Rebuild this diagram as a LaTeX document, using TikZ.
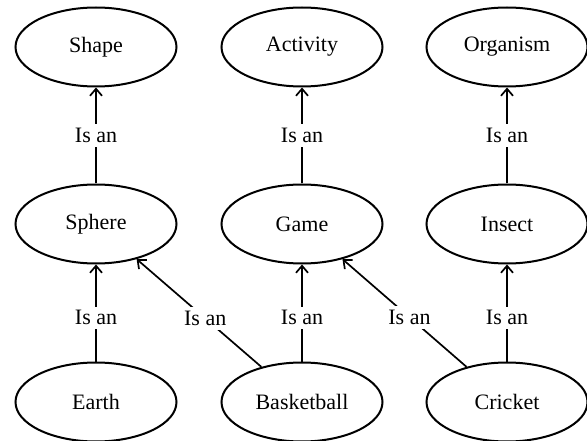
\documentclass[tikz,border=0pt]{standalone}
\usepackage{fontspec}
\setmainfont{Liberation Serif}
\usetikzlibrary{shapes.geometric,arrows.meta}
\tikzset{
  concept/.style={ellipse, draw, line width=2pt, minimum width=161pt, minimum height=79pt, inner sep=0pt, font=\fontsize{22}{26}\selectfont},
  isa/.style={line width=1.7pt, -{Straight Barb[length=7pt,width=12pt,line width=1.7pt]}},
  rel/.style={fill=white, inner sep=4pt, font=\fontsize{22}{26}\selectfont}
}
\begin{document}
\begin{tikzpicture}[x=1pt, y=-1pt]
  \useasboundingbox (0,0) rectangle (587,441);
  % top row
  \node[concept] (shape)    at (96,47)  {Shape};
  \node[concept] (activity) at (302,47) {Activity};
  \node[concept] (organism) at (507,47) {Organism};
  % middle row
  \node[concept] (sphere) at (96,224)  {Sphere};
  \node[concept] (game)   at (302,224) {Game};
  \node[concept] (insect) at (507,224) {Insect};
  % bottom row
  \node[concept] (earth)      at (96,402)  {Earth};
  \node[concept] (basketball) at (302,402) {Basketball};
  \node[concept] (cricket)    at (507,402) {Cricket};
  % is-a relations
  \draw[isa] (sphere) -- node[rel] {Is an} (shape);
  \draw[isa] (game) -- node[rel] {Is an} (activity);
  \draw[isa] (insect) -- node[rel] {Is an} (organism);
  \draw[isa] (earth) -- node[rel, pos=0.45] {Is an} (sphere);
  \draw[isa] (basketball) -- node[rel, pos=0.45] {Is an} (game);
  \draw[isa] (cricket) -- node[rel, pos=0.45] {Is an} (insect);
  \draw[isa] (basketball) -- node[rel, pos=0.45] {Is an} (sphere);
  \draw[isa] (cricket) -- node[rel, pos=0.46] {Is an} (game);
\end{tikzpicture}
\end{document}
